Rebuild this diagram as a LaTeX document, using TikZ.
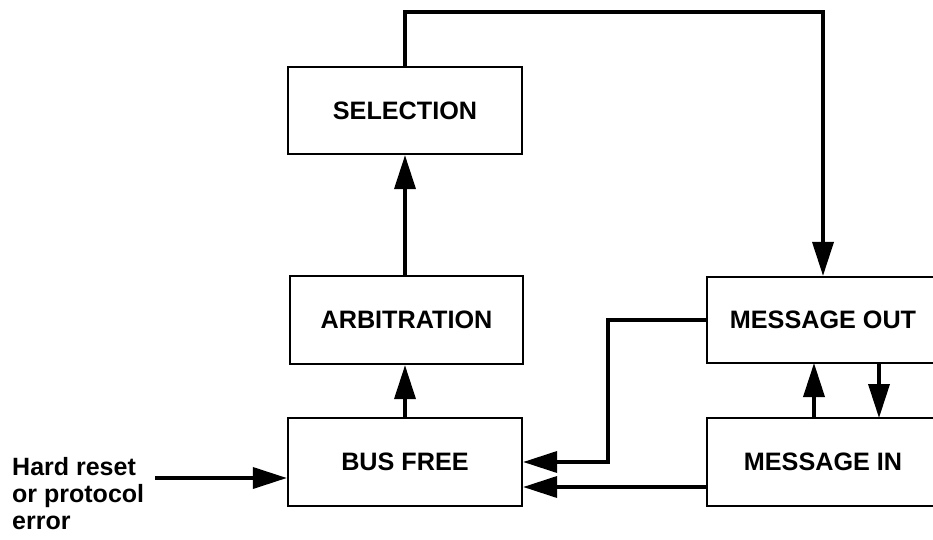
\documentclass[tikz,border=0pt]{standalone}
\usepackage{fontspec}
\setmainfont{Liberation Sans}
\usetikzlibrary{arrows.meta}
\begin{document}
\begin{tikzpicture}[x=1pt,y=-1pt,
  box/.style={draw,line width=2.2pt,rectangle,inner sep=0pt,
    font=\fontsize{25.2}{28}\selectfont\bfseries},
  conn/.style={line width=3.6pt,-{Triangle[length=34pt,width=21pt]}},
  plain/.style={line width=3.6pt}]
\useasboundingbox (0,0) rectangle (933,540);
\node[box,minimum width=234pt,minimum height=87pt] (sel) at (405,110.5) {SELECTION};
\node[box,minimum width=233pt,minimum height=88pt] (arb) at (406.5,320) {ARBITRATION};
\node[box,minimum width=234pt,minimum height=88pt] (bus) at (405,462) {BUS FREE};
\node[box,minimum width=232pt,minimum height=86pt] (mout) at (823,320) {MESSAGE OUT};
\node[box,minimum width=232pt,minimum height=88pt] (min) at (823,462) {MESSAGE IN};
\node[align=left,inner sep=0pt,anchor=north west,font=\fontsize{25}{27}\selectfont\bfseries] (err) at (12,457) {Hard reset\\or protocol\\error};
\coordinate (in) at (155,478);
\coordinate (top1) at (405,12);
\coordinate (top2) at (823,12);
\coordinate (mid) at (608,320);
\coordinate (mid2) at (608,462);
% connectors
\draw[conn] (in) -- (in -| bus.west);
\draw[conn] (bus.north) -- (arb.south -| bus.north);
\draw[conn] (arb.north -| sel.south) -- (sel.south);
\draw[conn] (sel.north) -- (top1) -- (top2) -- (mout.north);
\draw[conn] (mout.west) -- (mid) -- (mid2) -- (bus.east);
\draw[conn] (min.west |- 0,487) -- (bus.east |- 0,487);
\draw[conn] (814,418) -- (814,363);
\draw[conn] (879,363) -- (879,418);
\end{tikzpicture}
\end{document}
